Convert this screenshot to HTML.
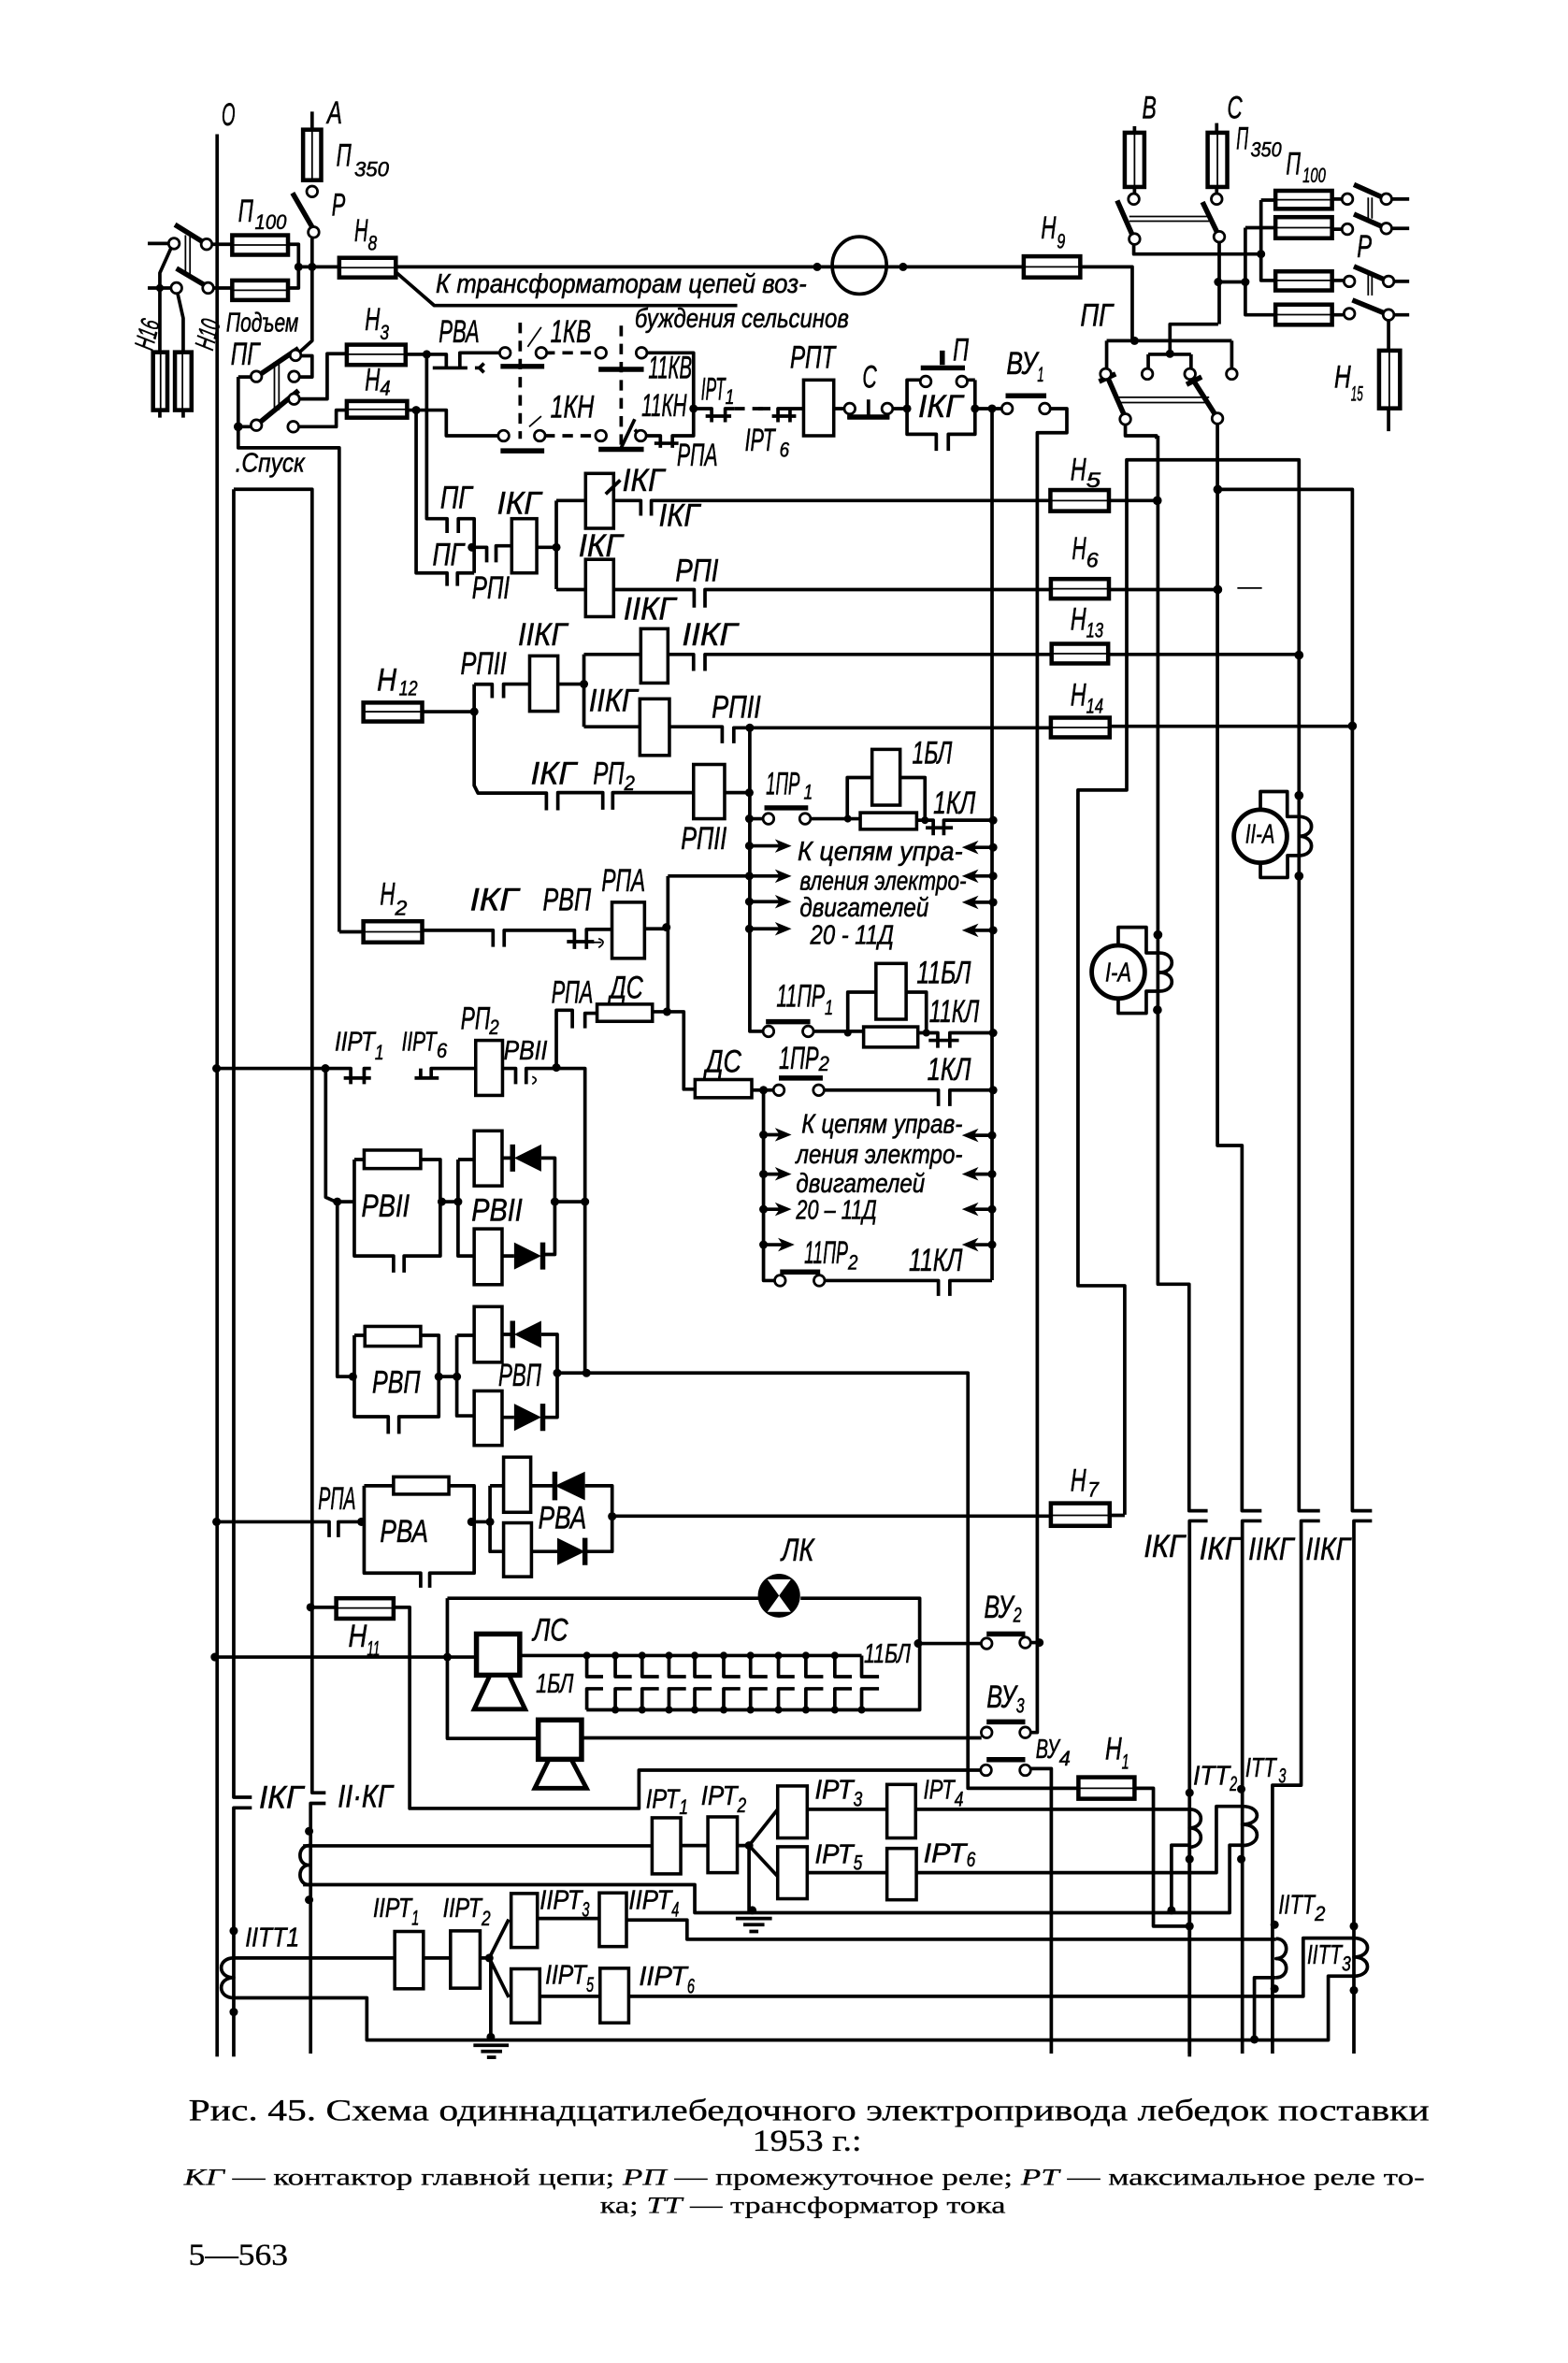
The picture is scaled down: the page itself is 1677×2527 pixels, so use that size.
<!DOCTYPE html>
<html lang="ru"><head><meta charset="utf-8"><title>Рис. 45</title>
<style>
html,body{margin:0;padding:0;background:#fff}
svg{display:block}
.w{fill:none;stroke:#000;stroke-width:2.3;stroke-linejoin:round}
.t{fill:none;stroke:#000;stroke-width:3.4}
.h{fill:none;stroke:#000;stroke-width:1.1}
.d{fill:none;stroke:#000;stroke-width:2.3;stroke-dasharray:7 5}
.f{fill:#fff;stroke:#000;stroke-width:2.8}
.r{fill:#fff;stroke:#000;stroke-width:2.2}
.c{fill:#fff;stroke:#000;stroke-width:1.7}
.n{fill:#000}
text{fill:#000;stroke:#000;stroke-width:.35;font-family:"Liberation Sans",sans-serif;font-style:italic;font-size:21px}
.s{font-size:14px}
.m{font-size:18px}
.cap{font-family:"Liberation Serif",serif;font-style:normal;font-size:20px;stroke-width:.2}
.sm{font-family:"Liberation Serif",serif;font-style:normal;font-size:16px;stroke-width:.15}
.sm tspan{font-style:italic}
</style></head><body>
<svg xmlns="http://www.w3.org/2000/svg" width="1677" height="2527" viewBox="0 0 1040 1567.2">
<rect width="1040" height="1567.2" fill="#fff"/>

<!-- wires -->
<path class="w" d="M144 89V1364M155 324.5V1192H167M167 1199H155V1364M155 324.5H207V1189H216M216 1196H206V1362
M98 161.5H115M98 191H117M115 161L106 181V277M117 191L121.5 211V277
M137 162H154M191 162H198V191H191M139 191H154
M207 74V120M207 158V226L196 236M198 177H552M552 177H679M716 177H751V226
M262 180L288 202.6H489
M196 236H207V250H199M199 264.6H217V234.6H230M198 283H223V272H230
M158 250H170M158 250V297H225V618M158 283H170
M269 235H296V244M283 235V344H296.5V353.5M304 353.5V344H314.5V380M276 272V380H296.5V388.6M303.4 388.6V380H314.5
M305 244V234H335M287 244H310M315 244H318L321 241M315 244H318L321 247
M270 272H296V289H334M359 234H366M425 234H460V289H446V297M425 289H438V297M434 294H450
M460 271H472V280M481 280V271H487M468 276H485M503 271H511M516 280V271H533M512 276H528M516 271V280M524 271V280M524 271H533
M553 271H560M562 276.6H590M576 265V276M592 271H601.6V252H611M601.6 271V288H621V299M629 299V288H646.7V271M646.7 252H641M646.7 252V271
M646.7 271H665M658 271V849M696 271H707.6V287H688V1149H683M313 363H322.8V373M329 373V362H339M356 363H369M369 332V390.7M369 332H388M369 391H388
M407 332H425V342M432 342V332H697M407 391H460.4V403M467.6 403V391H697
M280 472H314.5M314.5 453.8H326.4V463M334 463V453.7H351M370 453.7H387.3M387.3 434V482M387.3 434H425M387.3 482H424M443 434H460V445M467.6 445V434H697M444 482H479V493M486.7 493V482.7H697
M497.3 482.7V684H507M314.5 453.8V521L317 526H362.4V537.4M370 537.4V525.7H399.8V537M406.4 537V525.7H460M480.6 525.7H497.3
M497 543H507M536 543H578M562 543V515.7H578.4M597 515.7H613.5V544M608 544H619V554M626 554V544H658.7M614 549H632
M225 618H241M280 617H327V628M334.4 628V617H381V629.4M389 629.4V616.4H406M376 624.5H394M427.5 616H443M443 581V671M443 581H497
M536 684H581M562.3 685V658H581M601 658H614.4V685M608.8 685H622V695M630 695V685H658.7M616 690H636
M369 707V670H379.6V682M388 682V672H396M432.7 671H453.5V722.4H461M498.6 723H516M543 723H622.4V733.6M630 733.6V723H658.7
M506.4 723V849.3H516M544 849.3H622.4V859.5M630 859.5V849.3H658
M144 708.6H232.6V719M241.5 719V708.6H246M279 708.6V716M286 716V708.6H315.5M333.3 708.6H342V719M349 719V708.6H388V910.6H642V1186H715M228 715H246M275 715H291
M216 708.6V794L223.7 797.5V913H234M223.7 797H235M235 769H242M279 769H292V833H268V844M261 844V833H235V769M293 797H303.8M303.8 769H314.5M303.8 769V833H314.5M333 768H341M359 768H368V832H359M333 833H341M368 797H388
M235 885.6V939.6H257.5V951M264.6 951V939.6H291V885.6H279M242 885.6H235M291 913H303M303 885.6V939H314.5M303 885.6H314.5M333 885H341M359 885H369.6V940H359M333 940H341M369.6 910.6H389
M144 1009.3H218.3V1019.5M224.4 1019.5V1009.3H241.5M241.5 985.4V1043.3H279V1053M285 1053V1043.3H314.5V985.4H297.7M261 985.4H241.5M312.7 1009.3H325M325 985.4V1029H334M325 985.4H334M352 985.4H368M388 985.4H406V1029H388M352 1029H369.6M406 1005.5H697M736 1005H746M746 1004.6V852.7H715V524H747.3V305H861.6V1002H875.5M875.5 1008.7H863V1184H844V1362
M768 289V851.7H788.7V1002H801M801 1008.7H789V1364"/>
<path class="w" d="M746.4 281V289H767V291M807.5 281V759.7H823.8V1002H836.8M836.8 1008.7H824V1362M807.7 324.6H897V1002H910M910 1008.7H898V1362
M736 332H767.6M736 391H807.7M733 434H861.6M737 481.7H897
M206 1066H223M261 1066H271.7V1199.4H423.8V1174H651M142.5 1099H316M296.7 1060V1153H357M296.7 1060H503M531 1060H610V1134H389M344.7 1098H571.5M385.7 1152.6H651M609 1090H651M683 1089.4H689.4M683 1173H697.3V1362
M752.5 1186H765V1277.5H789M389.2 1098V1112H400M408.1 1098V1112H419M425.9 1098V1112H437M443.7 1098V1112H455M460.8 1098V1112H472M480 1098V1112H491M497.8 1098V1112H509M516.3 1098V1112H527M534.5 1098V1112H546M553.7 1098V1112H565M571.5 1098V1112H583
M389.2 1134V1120H400M408.1 1134V1120H419M425.9 1134V1120H437M443.7 1134V1120H455M460.8 1134V1120H472M480 1134V1120H491M497.8 1134V1120H509M516.3 1134V1120H527M534.5 1134V1120H546M553.7 1134V1120H565M571.5 1134V1120H583
M201 1224.2H432.5M451.5 1224H469.5M489 1224H496.8L515.8 1200M496.8 1224L515.8 1244.5M535.4 1200H588.3M607.3 1200H789M535.4 1242H588.3M607.3 1242H806.8V1198H824
M496.8 1224V1268M201 1250H460.8V1268.6H815.6V1223.8H824M777 1268V1223.8H789
M155 1298.6H261.8M280.8 1298.6H298.8M318.4 1298.6H324.5L337.4 1273M324.5 1298.6L337.4 1324.7M356.4 1272.4H397.5M415.5 1273.4H455.7V1286.2H846.4M356.4 1324H398M417 1324H864.4V1285.4H898
M325.5 1298.6V1353M155 1325H243.3V1353H881V1310.6H898M832 1352.6V1311.6H846.4
M789 1200V1362M824 1198V1362"/>
<path class="h" stroke-width="1.4" d="M820.7 390H837"/>

<!-- coils of transformers and motors -->
<path class="w" d="M205 1224c-8 0-8 13 0 13c-8 0-8 13 0 13M789 1200c10 0 10 12.4 0 12.4c10 0 10 12.6 0 12.6M824 1198c13 0 13 12 0 12c13 0 13 14 0 14
M155 1298.6c-11 0-11 13 0 13c-11 0-11 13.4 0 13.4M846.4 1285.8c9 0 9 13.2 0 13.2c9 0 9 12.6 0 12.6M898 1285.4c12 0 12 12.6 0 12.6c12 0 12 12.6 0 12.6
M861.6 541.6c11 0 11 13 0 13c11 0 11 12.8 0 12.8M769 632c11 0 11 13 0 13c11 0 11 12.4 0 12.4
M836 537V525H853.8V541.6H861.6M861.6 567.4H854V582H836V572M741.7 627V615H760.3V632H769M769 657.4H760.3V672H741.7V662"/>
<ellipse class="w" cx="570" cy="176" rx="18" ry="19"/>
<circle cx="836" cy="554.6" r="17.6" fill="#fff" stroke="#000" stroke-width="3"/>
<circle cx="741.7" cy="644.6" r="17.6" fill="#fff" stroke="#000" stroke-width="3"/>

<!-- dashed -->
<path class="d" d="M345 214V291M412 216V295M361 234H398M361 289H398M487 271H511"/>
<path class="h" d="M350 230L359 217M351 283L359 276"/>

<!-- blades, bars -->
<path class="t" d="M116 149L137 162M117 178L139 191M194 128L209 154M170 250L198 231M170 282L198 259
M332 243H361M397 245H427M332 299H361M397 298H427M610.7 244H640M625 232.5V242M667 262.5H694
M741 133L752 158M797.6 134L808.7 157M735 251L746.4 277M792 253L807.3 277M898 122.4L919.5 132M898 142L919.5 151.5M898 176.7L921 186.6M897 199L921 208.8
M507 535.8H536M508 677.6H537.4M516.6 715H545.7M517.4 843.6H544M654.4 1083.7H680M654.4 1142H680M654.4 1167H680M562 276.6H590M729 253L740 248M787 255L797 250"/>
<path class="w" d="M412 297L421 278M425 289L421 285"/>
<path class="h" d="M123 156V182M126 156V182M182 240V272M185 240V272M749 143.6H802M749 146.7H802M742 263.5H802M742 267H802M907.5 131V145M910 131V145M907.5 181V196M910 181V196"/>
<path class="w" d="M752 162V168.5H836.4M808.7 161V215M808 187H826M826 151V208.8H846M826 151H846M836.4 132.7V186H846M836.4 132.7H846M883.5 132H890M883.5 152H890M883.5 186H891M883.5 208.8H891
M923 132H934.7M923 151.5H934.7M925 186.6H934.7M925 208.8H934.7M921 212V286M752.5 83.7V124M807 81.6V124M752.5 124V128M807 124V128
M808 215H776V234.6M734 226H817M734 226V244M817 226V244M761.6 235H790M761.6 235V244M790 235V244"/>

<!-- fuses -->
<g>
<rect class="f" x="154" y="156" width="37" height="13"/><rect class="f" x="154" y="186" width="37" height="13"/>
<rect class="f" x="225" y="171" width="37.5" height="13"/><rect class="f" x="679" y="170" width="37.5" height="14"/>
<rect class="f" x="230" y="228.6" width="39" height="13.4"/><rect class="f" x="230" y="266" width="40" height="11"/>
<rect class="f" x="241" y="466" width="39" height="12.5"/><rect class="f" x="241" y="611" width="39" height="14"/>
<rect class="f" x="696.7" y="325" width="38.8" height="14"/><rect class="f" x="697" y="384" width="38.5" height="13"/>
<rect class="f" x="697.5" y="427" width="37.5" height="13"/><rect class="f" x="697" y="476" width="39" height="13"/>
<rect class="f" x="697" y="997" width="39" height="15"/><rect class="f" x="223" y="1060" width="38" height="13.5"/>
<rect class="f" x="715.3" y="1178.7" width="37.2" height="14.3"/>
<rect class="f" x="846" y="126.5" width="37.5" height="12"/><rect class="f" x="846" y="144" width="37.5" height="14"/>
<rect class="f" x="846" y="180" width="37.5" height="12.6"/><rect class="f" x="846" y="202" width="37.5" height="13.4"/>
<rect class="f" x="201" y="86" width="12" height="33.5"/><rect class="f" x="101.5" y="233.6" width="9.5" height="38.4"/>
<rect class="f" x="116" y="233.6" width="11" height="38.4"/><rect class="f" x="746" y="88" width="13" height="36"/>
<rect class="f" x="801" y="88" width="13" height="36"/><rect class="f" x="914.7" y="232.5" width="13.9" height="38.3"/>
</g>
<path class="h" stroke-width="1.5" d="M154 162.5H191M154 192.5H191M225 177.5H262M679 177H716M230 235H269M230 271.5H270M241 472H280M241 618H280M697 332H735M697 390.5H735M697.5 433.5H735M697 482.5H736M697 1005H736M223 1066.500H261M715 1186H752M846 132.5H883M846 151H883M846 186H883M846 208.7H883
M207 86V119M106.5 234V272M121 234V272M752.5 88V124M807.5 88V124M921.5 232V271"/>

<!-- coils / resistors -->
<g>
<rect class="r" x="533" y="252" width="20" height="37"/><rect class="r" x="339.4" y="344" width="16.6" height="36"/>
<rect class="r" x="388.4" y="314" width="18.6" height="36.4"/><rect class="r" x="388.4" y="371" width="18.6" height="38"/>
<rect class="r" x="351.3" y="435" width="18.7" height="36.7"/><rect class="r" x="425" y="417" width="18" height="36"/>
<rect class="r" x="424.4" y="463.5" width="19.6" height="37.5"/><rect class="r" x="460" y="507" width="20.6" height="36"/>
<rect class="r" x="578.4" y="497" width="18.6" height="37"/><rect class="r" x="570.6" y="539" width="37.4" height="11"/>
<rect class="r" x="405.9" y="598.4" width="21.6" height="37.2"/><rect class="r" x="581" y="639" width="20" height="37"/>
<rect class="r" x="572.8" y="681" width="36" height="13.5"/><rect class="r" x="396" y="666" width="36.7" height="11.4"/>
<rect class="r" x="461" y="716" width="37.6" height="12"/><rect class="r" x="315.5" y="690" width="17.8" height="36.5"/>
<rect class="r" x="241.5" y="762.8" width="37.5" height="12.2"/><rect class="r" x="314.5" y="750" width="18.5" height="36.5"/>
<rect class="r" x="314.5" y="815" width="18.5" height="37"/><rect class="r" x="242" y="879.7" width="37" height="13.1"/>
<rect class="r" x="314.5" y="866.6" width="18.5" height="36.9"/><rect class="r" x="314.5" y="922.5" width="18.5" height="36.1"/>
<rect class="r" x="261" y="979.5" width="36.7" height="11.5"/><rect class="r" x="334" y="966.4" width="18" height="36.6"/>
<rect class="r" x="334" y="1010" width="18.5" height="35.7"/>
<rect class="r" x="432.5" y="1205.6" width="19" height="37.2"/><rect class="r" x="469.5" y="1205" width="19.5" height="37"/>
<rect class="r" x="515.8" y="1184.5" width="19.6" height="34.5"/><rect class="r" x="588.3" y="1183.5" width="19" height="35.5"/>
<rect class="r" x="515.8" y="1224.8" width="19.6" height="34.5"/><rect class="r" x="588.3" y="1225.9" width="19.5" height="34.1"/>
<rect class="r" x="261.8" y="1281" width="19" height="38"/><rect class="r" x="298.8" y="1280.6" width="19.6" height="38"/>
<rect class="r" x="339" y="1255.8" width="17.4" height="35.8"/><rect class="r" x="397.5" y="1255.4" width="18" height="35.6"/>
<rect class="r" x="339" y="1305.8" width="19" height="35.8"/><rect class="r" x="398" y="1305.4" width="19" height="36.2"/>
</g>

<!-- sirens -->
<rect x="316" y="1083.7" width="28.7" height="27.3" fill="#fff" stroke="#000" stroke-width="3.4"/>
<path d="M325 1111L314.5 1133.6H348.3L337.6 1111Z" fill="#fff" stroke="#000" stroke-width="3"/>
<rect x="357" y="1140.7" width="28.7" height="26.1" fill="#fff" stroke="#000" stroke-width="3.4"/>
<path d="M364 1167L354.7 1186H389L379 1167Z" fill="#fff" stroke="#000" stroke-width="3"/>
<!-- lamp -->
<ellipse cx="516.7" cy="1058.3" rx="14" ry="14.5" fill="#000"/>
<path d="M509 1047.5H524.5L516.7 1058.300ZM509 1069H524.5L516.7 1058.300Z" fill="#fff"/>

<!-- diodes -->
<path class="n" d="M341 768L359 759V777ZM341 885L359 876V894ZM368 985.4L388 976V995Z"/>
<path class="n" d="M341 824L359 833L341 842ZM341 931L359 940L341 949ZM369.6 1020L388 1029L369.6 1038Z"/>
<path class="t" stroke-width="2.4" d="M340 759V777M360 824V842M340 876V894M360 931V949M368 976V995M388 1020V1038"/>

<!-- coil arrow marks -->
<path class="w" stroke-width="1.6" d="M401.7 327.7L411.4 318.4"/>

<!-- arrows -->
<path class="w" d="M497 561H520M497 581H520M497 598H520M497 616H520M658.7 562H642M658.7 581H642M658.7 598.4H642M658.7 617H642M506.4 752.6H520M506.4 778.7H520M506.4 802H520M506.4 825.5H522M658 753H642M658 778.7H642M658 802H642M658 825.5H642"/>
<path class="n" d="M525 561L514 556.5L517 561L514 565.5ZM525 581L514 576.5L517 581L514 585.5ZM525 598L514 593.5L517 598L514 602.5ZM525 616L514 611.5L517 616L514 620.5ZM638 562L649 557.5L646 562L649 566.5ZM638 581L649 576.5L646 581L649 585.5ZM638 598.4L649 594L646 598.4L649 603ZM638 617L649 612.5L646 617L649 621.5ZM525 752.6L514 748L517 752.6L514 757ZM525 778.7L514 774L517 778.7L514 783ZM525 802L514 797.5L517 802L514 806.5ZM527 825.5L516 821L519 825.5L516 830ZM638 753L649 748.5L646 753L649 757.5ZM638 778.7L649 774L646 778.7L649 783ZM638 802L649 797.5L646 802L649 806.5ZM638 825.5L649 821L646 825.5L649 830Z"/>

<!-- grounds and small marks -->
<path class="w" d="M488 1272.4H512M493 1276.5H507M497 1281H503M314 1356.5H337.4M319 1360.5H333M323 1364.5H329"/>
<path class="h" stroke-width="1.5" d="M397 622.5q6 2 0 6M353 714q5 2 0 5M393 625h6"/>

<!-- terminal circles -->
<g>
<circle class="c" cx="115.4" cy="161.5" r="3.6"/><circle class="c" cx="137" cy="162" r="3.6"/><circle class="c" cx="117" cy="191" r="3.6"/><circle class="c" cx="138" cy="191" r="3.6"/>
<circle class="c" cx="207" cy="127" r="3.6"/><circle class="c" cx="208" cy="154" r="3.6"/>
<circle class="c" cx="196" cy="235.6" r="3.6"/><circle class="c" cx="195" cy="249.7" r="3.6"/><circle class="c" cx="170" cy="249.7" r="3.6"/><circle class="c" cx="195" cy="264.6" r="3.6"/><circle class="c" cx="170" cy="282" r="3.6"/><circle class="c" cx="194.5" cy="283" r="3.6"/>
<circle class="c" cx="335" cy="234" r="3.6"/><circle class="c" cx="359" cy="234" r="3.6"/><circle class="c" cx="398.6" cy="234" r="3.6"/><circle class="c" cx="425.5" cy="234" r="3.6"/>
<circle class="c" cx="334" cy="289" r="3.6"/><circle class="c" cx="358" cy="289" r="3.6"/><circle class="c" cx="398.6" cy="289" r="3.6"/><circle class="c" cx="425" cy="289" r="3.6"/>
<circle class="c" cx="563.6" cy="271" r="3.6"/><circle class="c" cx="588.5" cy="271" r="3.6"/><circle class="c" cx="614" cy="253" r="3.6"/><circle class="c" cx="638" cy="253" r="3.6"/>
<circle class="c" cx="668" cy="271" r="3.6"/><circle class="c" cx="693" cy="271" r="3.6"/>
<circle class="c" cx="752" cy="132" r="3.6"/><circle class="c" cx="807" cy="132" r="3.6"/><circle class="c" cx="752.5" cy="158.5" r="3.6"/><circle class="c" cx="808.7" cy="157" r="3.6"/>
<circle class="c" cx="893.7" cy="132" r="3.6"/><circle class="c" cx="893.7" cy="152" r="3.6"/><circle class="c" cx="895" cy="186.6" r="3.6"/><circle class="c" cx="895" cy="208" r="3.6"/>
<circle class="c" cx="919.5" cy="132" r="3.6"/><circle class="c" cx="919.5" cy="151.5" r="3.6"/><circle class="c" cx="921" cy="186.6" r="3.6"/><circle class="c" cx="921" cy="208.8" r="3.6"/>
<circle class="c" cx="733.4" cy="248" r="3.6"/><circle class="c" cx="761" cy="248" r="3.6"/><circle class="c" cx="789.3" cy="248" r="3.6"/><circle class="c" cx="817" cy="248" r="3.6"/>
<circle class="c" cx="746.4" cy="278" r="3.6"/><circle class="c" cx="807.5" cy="277.5" r="3.6"/>
<circle class="c" cx="509.7" cy="543" r="3.6"/><circle class="c" cx="534" cy="543" r="3.6"/><circle class="c" cx="509.7" cy="684" r="3.6"/><circle class="c" cx="536" cy="684" r="3.6"/>
<circle class="c" cx="516.6" cy="723" r="3.6"/><circle class="c" cx="543" cy="723" r="3.6"/><circle class="c" cx="517.4" cy="849.3" r="3.6"/><circle class="c" cx="543.4" cy="849.3" r="3.6"/>
<circle class="c" cx="654.4" cy="1090" r="3.6"/><circle class="c" cx="680" cy="1089.4" r="3.6"/><circle class="c" cx="654.4" cy="1149" r="3.6"/><circle class="c" cx="680" cy="1149" r="3.6"/><circle class="c" cx="654" cy="1174" r="3.6"/><circle class="c" cx="680" cy="1174" r="3.6"/>
</g>

<!-- junction dots -->
<g class="n">
<circle cx="106" cy="191" r="2.6"/><circle cx="198" cy="177" r="2.8"/><circle cx="207" cy="177" r="2.8"/><circle cx="158" cy="283" r="3"/><circle cx="283" cy="235" r="2.8"/><circle cx="276" cy="272" r="2.8"/><circle cx="542" cy="177" r="2.8"/><circle cx="599" cy="177" r="2.8"/>
<circle cx="460" cy="271" r="2.8"/><circle cx="601.6" cy="271" r="2.8"/><circle cx="646.7" cy="271" r="2.8"/><circle cx="658" cy="271" r="2.8"/><circle cx="752.5" cy="226" r="2.8"/><circle cx="776" cy="234.6" r="2.8"/><circle cx="836.4" cy="168.5" r="2.8"/><circle cx="808" cy="187" r="2.8"/><circle cx="826" cy="187" r="2.8"/>
<circle cx="767.6" cy="332" r="3"/><circle cx="807.7" cy="324.6" r="3"/><circle cx="807.7" cy="391" r="3"/><circle cx="861.6" cy="434.5" r="3"/><circle cx="897" cy="481.5" r="3"/>
<circle cx="861.6" cy="527.6" r="3"/><circle cx="861.6" cy="581" r="3"/><circle cx="768" cy="620" r="3"/><circle cx="767.7" cy="669.8" r="3"/>
<circle cx="313" cy="363" r="2.8"/><circle cx="369" cy="363" r="2.8"/><circle cx="314.5" cy="472" r="2.8"/><circle cx="387.3" cy="453.7" r="2.8"/><circle cx="497.3" cy="482.7" r="2.8"/><circle cx="497" cy="525.7" r="2.8"/><circle cx="497" cy="543" r="2.8"/><circle cx="562.3" cy="543" r="2.5"/><circle cx="613.5" cy="544" r="2.5"/><circle cx="658.7" cy="544" r="2.8"/>
<circle cx="497" cy="561" r="2.8"/><circle cx="497" cy="581" r="2.8"/><circle cx="497" cy="598" r="2.8"/><circle cx="497" cy="616" r="2.8"/><circle cx="658.7" cy="562" r="2.8"/><circle cx="658.7" cy="581" r="2.8"/><circle cx="658.7" cy="598.4" r="2.8"/><circle cx="658.7" cy="617" r="2.8"/>
<circle cx="442" cy="615" r="2.8"/><circle cx="442.4" cy="671" r="2.8"/><circle cx="562.3" cy="685" r="2.5"/><circle cx="614.4" cy="685" r="2.5"/><circle cx="658.7" cy="685" r="2.8"/><circle cx="658.7" cy="723" r="2.8"/><circle cx="506.4" cy="723" r="2.8"/>
<circle cx="506.4" cy="752.6" r="2.8"/><circle cx="506.4" cy="778.7" r="2.8"/><circle cx="506.4" cy="802" r="2.8"/><circle cx="506.4" cy="825.5" r="2.8"/><circle cx="658" cy="753" r="2.8"/><circle cx="658" cy="778.7" r="2.8"/><circle cx="658" cy="802" r="2.8"/><circle cx="658" cy="825.5" r="2.8"/>
<circle cx="143.6" cy="708.6" r="2.8"/><circle cx="215.8" cy="708.6" r="2.8"/><circle cx="369" cy="708" r="2.8"/><circle cx="223.7" cy="797" r="2.8"/><circle cx="293" cy="797" r="2.8"/><circle cx="303.8" cy="797" r="2.8"/><circle cx="368" cy="797" r="2.8"/><circle cx="388" cy="797" r="2.8"/>
<circle cx="234" cy="913" r="2.8"/><circle cx="291" cy="913" r="2.8"/><circle cx="303" cy="913" r="2.8"/><circle cx="369.6" cy="910.6" r="2.8"/><circle cx="389" cy="910.6" r="2.8"/>
<circle cx="143.6" cy="1009.3" r="2.8"/><circle cx="239.7" cy="1009.3" r="2.8"/><circle cx="312.7" cy="1009.3" r="2.8"/><circle cx="325" cy="1009.3" r="2.8"/><circle cx="406" cy="1005.7" r="2.8"/>
<circle cx="206" cy="1066" r="2.8"/><circle cx="142.5" cy="1099" r="2.8"/><circle cx="296.7" cy="1099" r="2.8"/><circle cx="609" cy="1090" r="2.8"/><circle cx="689.4" cy="1089.4" r="2.8"/>
<circle cx="389.2" cy="1098" r="2.5"/><circle cx="408.1" cy="1098" r="2.5"/><circle cx="425.9" cy="1098" r="2.5"/><circle cx="443.7" cy="1098" r="2.5"/><circle cx="460.8" cy="1098" r="2.5"/><circle cx="480" cy="1098" r="2.5"/><circle cx="497.8" cy="1098" r="2.5"/><circle cx="516.3" cy="1098" r="2.5"/><circle cx="534.5" cy="1098" r="2.5"/><circle cx="553.7" cy="1098" r="2.5"/>
<circle cx="408.1" cy="1134" r="2.5"/><circle cx="425.9" cy="1134" r="2.5"/><circle cx="443.7" cy="1134" r="2.5"/><circle cx="460.8" cy="1134" r="2.5"/><circle cx="480" cy="1134" r="2.5"/><circle cx="497.8" cy="1134" r="2.5"/><circle cx="516.3" cy="1134" r="2.5"/><circle cx="534.5" cy="1134" r="2.5"/><circle cx="553.7" cy="1134" r="2.5"/><circle cx="571.5" cy="1134" r="2.5"/>
<circle cx="205" cy="1214.5" r="2.8"/><circle cx="205" cy="1260" r="2.8"/><circle cx="155" cy="1280.6" r="2.8"/><circle cx="155" cy="1334.4" r="2.8"/><circle cx="496.8" cy="1224" r="2.8"/><circle cx="499" cy="1267" r="2.8"/><circle cx="324.5" cy="1298.6" r="2.8"/><circle cx="325.5" cy="1351" r="2.8"/><circle cx="777" cy="1267" r="2.8"/><circle cx="832" cy="1352.6" r="2.8"/>
<circle cx="789" cy="1189" r="2.8"/><circle cx="789" cy="1233" r="2.8"/><circle cx="789" cy="1277.5" r="2.8"/><circle cx="823.3" cy="1186.6" r="2.8"/><circle cx="823.3" cy="1233" r="2.8"/><circle cx="845.4" cy="1276.5" r="2.8"/><circle cx="845.4" cy="1319" r="2.8"/><circle cx="898" cy="1277.5" r="2.8"/><circle cx="898" cy="1320" r="2.8"/>
</g>

<!-- labels -->
<g>
<text x="147" y="83" textLength="9" lengthAdjust="spacingAndGlyphs">О</text>
<text x="217" y="82" textLength="10" lengthAdjust="spacingAndGlyphs">А</text>
<text x="223" y="110" textLength="10" lengthAdjust="spacingAndGlyphs">П</text><text class="s" x="235" y="117" textLength="23" lengthAdjust="spacingAndGlyphs">350</text>
<text x="220" y="143" textLength="9" lengthAdjust="spacingAndGlyphs">Р</text>
<text x="158" y="147" textLength="10" lengthAdjust="spacingAndGlyphs">П</text><text class="s" x="169" y="152" textLength="21" lengthAdjust="spacingAndGlyphs">100</text>
<text x="235" y="160" textLength="9" lengthAdjust="spacingAndGlyphs">Н</text><text class="s" x="244" y="166" textLength="6" lengthAdjust="spacingAndGlyphs">8</text>
<text class="m" x="289" y="194" textLength="246" lengthAdjust="spacingAndGlyphs">К трансформаторам цепей воз-</text>
<text class="m" x="421" y="217" textLength="142" lengthAdjust="spacingAndGlyphs">буждения сельсинов</text>
<text class="m" transform="translate(101 233) rotate(-75)" textLength="20" lengthAdjust="spacingAndGlyphs">Н16</text>
<text class="m" transform="translate(141 233) rotate(-75)" textLength="20" lengthAdjust="spacingAndGlyphs">Н10</text>
<text class="m" x="150" y="220" textLength="48" lengthAdjust="spacingAndGlyphs">Подъем</text>
<text x="153" y="242" textLength="19" lengthAdjust="spacingAndGlyphs">ПГ</text>
<text class="m" x="156" y="313" textLength="46" lengthAdjust="spacingAndGlyphs">.Спуск</text>
<text x="242" y="219" textLength="10" lengthAdjust="spacingAndGlyphs">Н</text><text class="s" x="252" y="225" textLength="6" lengthAdjust="spacingAndGlyphs">3</text>
<text x="242" y="259" textLength="10" lengthAdjust="spacingAndGlyphs">Н</text><text class="s" x="252" y="262" textLength="7" lengthAdjust="spacingAndGlyphs">4</text>
<text x="291" y="227" textLength="27" lengthAdjust="spacingAndGlyphs">РВА</text>
<text x="365" y="227" textLength="27" lengthAdjust="spacingAndGlyphs">1КВ</text>
<text x="430" y="251" textLength="29" lengthAdjust="spacingAndGlyphs">11КВ</text>
<text x="365" y="277" textLength="29" lengthAdjust="spacingAndGlyphs">1КН</text>
<text x="425.5" y="276" textLength="30" lengthAdjust="spacingAndGlyphs">11КН</text>
<text x="449" y="309" textLength="27" lengthAdjust="spacingAndGlyphs">РПА</text>
<text x="465" y="265" textLength="16" lengthAdjust="spacingAndGlyphs">IРТ</text><text class="s" x="481" y="268" textLength="6" lengthAdjust="spacingAndGlyphs">1</text>
<text x="494" y="299" textLength="20" lengthAdjust="spacingAndGlyphs">IРТ</text><text class="s" x="517" y="303" textLength="6.5" lengthAdjust="spacingAndGlyphs">6</text>
<text x="524" y="244" textLength="30" lengthAdjust="spacingAndGlyphs">РПТ</text>
<text x="572" y="257" textLength="9.5" lengthAdjust="spacingAndGlyphs">С</text>
<text x="632" y="239" textLength="10.5" lengthAdjust="spacingAndGlyphs">П</text>
<text x="667.5" y="248" textLength="20.5" lengthAdjust="spacingAndGlyphs">ВУ</text><text class="s" x="688" y="253" textLength="4.5" lengthAdjust="spacingAndGlyphs">1</text>
<text x="609" y="276.6" textLength="29.4" lengthAdjust="spacingAndGlyphs">IКГ</text>
<text x="690.5" y="158" textLength="10" lengthAdjust="spacingAndGlyphs">Н</text><text class="s" x="701" y="164.7" textLength="5.5" lengthAdjust="spacingAndGlyphs">9</text>
<text x="716.5" y="216" textLength="21.5" lengthAdjust="spacingAndGlyphs">ПГ</text>
<text x="757.5" y="78.5" textLength="9.5" lengthAdjust="spacingAndGlyphs">В</text>
<text x="814" y="78.5" textLength="10" lengthAdjust="spacingAndGlyphs">С</text>
<text x="820" y="99" textLength="8" lengthAdjust="spacingAndGlyphs">П</text><text class="s" x="829.5" y="104" textLength="20.5" lengthAdjust="spacingAndGlyphs">350</text>
<text x="853" y="115.7" textLength="9.7" lengthAdjust="spacingAndGlyphs">П</text><text class="s" x="864" y="121" textLength="15.3" lengthAdjust="spacingAndGlyphs">100</text>
<text x="900" y="170.5" textLength="9.8" lengthAdjust="spacingAndGlyphs">Р</text>
<text x="885" y="257" textLength="11" lengthAdjust="spacingAndGlyphs">Н</text><text class="s" x="896" y="265.6" textLength="8" lengthAdjust="spacingAndGlyphs">15</text>
<text x="710" y="318.4" textLength="10.4" lengthAdjust="spacingAndGlyphs">Н</text><text class="s" x="720.5" y="323" textLength="9.5" lengthAdjust="spacingAndGlyphs">5</text>
<text x="711" y="371" textLength="9.4" lengthAdjust="spacingAndGlyphs">Н</text><text class="s" x="720.5" y="376" textLength="8" lengthAdjust="spacingAndGlyphs">6</text>
<text x="710" y="417.6" textLength="10.4" lengthAdjust="spacingAndGlyphs">Н</text><text class="s" x="720.4" y="422.8" textLength="11.4" lengthAdjust="spacingAndGlyphs">13</text>
<text x="710" y="468" textLength="10.4" lengthAdjust="spacingAndGlyphs">Н</text><text class="s" x="720.4" y="473" textLength="11.4" lengthAdjust="spacingAndGlyphs">14</text>
<text class="m" x="826" y="559" textLength="19.5" lengthAdjust="spacingAndGlyphs">II-А</text>
<text class="m" x="733" y="651" textLength="17.4" lengthAdjust="spacingAndGlyphs">I-А</text>
<text x="710" y="989" textLength="10.4" lengthAdjust="spacingAndGlyphs">Н</text><text class="s" x="721.5" y="992.6" textLength="7.2" lengthAdjust="spacingAndGlyphs">7</text>
<text x="758.7" y="1032.5" textLength="27" lengthAdjust="spacingAndGlyphs">IКГ</text>
<text x="795.5" y="1034" textLength="27.3" lengthAdjust="spacingAndGlyphs">IКГ</text>
<text x="828" y="1034.5" textLength="30" lengthAdjust="spacingAndGlyphs">IIКГ</text>
<text x="866" y="1034.5" textLength="29.5" lengthAdjust="spacingAndGlyphs">IIКГ</text>
<text x="292" y="337" textLength="21" lengthAdjust="spacingAndGlyphs">ПГ</text>
<text x="329.7" y="340.7" textLength="29" lengthAdjust="spacingAndGlyphs">IКГ</text>
<text x="286.8" y="375" textLength="20.8" lengthAdjust="spacingAndGlyphs">ПГ</text>
<text x="313" y="397" textLength="25" lengthAdjust="spacingAndGlyphs">РПI</text>
<text x="412.8" y="325.6" textLength="27.7" lengthAdjust="spacingAndGlyphs">IКГ</text>
<text x="437" y="349" textLength="27" lengthAdjust="spacingAndGlyphs">IКГ</text>
<text x="383.7" y="369" textLength="29" lengthAdjust="spacingAndGlyphs">IКГ</text>
<text x="448" y="385.5" textLength="28.5" lengthAdjust="spacingAndGlyphs">РПI</text>
<text x="413.6" y="411" textLength="34.4" lengthAdjust="spacingAndGlyphs">IIКГ</text>
<text x="343.6" y="428" textLength="32.4" lengthAdjust="spacingAndGlyphs">IIКГ</text>
<text x="452.4" y="428" textLength="36.6" lengthAdjust="spacingAndGlyphs">IIКГ</text>
<text x="305.4" y="447" textLength="30.6" lengthAdjust="spacingAndGlyphs">РПII</text>
<text x="250" y="458" textLength="13" lengthAdjust="spacingAndGlyphs">Н</text><text class="s" x="264.6" y="461" textLength="12.4" lengthAdjust="spacingAndGlyphs">12</text>
<text x="390.6" y="471.7" textLength="32" lengthAdjust="spacingAndGlyphs">IIКГ</text>
<text x="472" y="476" textLength="32.7" lengthAdjust="spacingAndGlyphs">РПII</text>
<text x="352" y="520" textLength="30" lengthAdjust="spacingAndGlyphs">IКГ</text>
<text x="393.4" y="520" textLength="20.6" lengthAdjust="spacingAndGlyphs">РП</text><text class="s" x="414" y="524" textLength="7" lengthAdjust="spacingAndGlyphs">2</text>
<text x="605" y="506.5" textLength="26.5" lengthAdjust="spacingAndGlyphs">1БЛ</text>
<text x="508" y="526.7" textLength="22.5" lengthAdjust="spacingAndGlyphs">1ПР</text><text class="s" x="533" y="530" textLength="6" lengthAdjust="spacingAndGlyphs">1</text>
<text x="619" y="539.5" textLength="28" lengthAdjust="spacingAndGlyphs">1КЛ</text>
<text x="451.6" y="563" textLength="30.4" lengthAdjust="spacingAndGlyphs">РПII</text>
<text class="m" x="529" y="570.5" textLength="109.5" lengthAdjust="spacingAndGlyphs">К цепям упра-</text>
<text class="m" x="530.5" y="590" textLength="110.5" lengthAdjust="spacingAndGlyphs">вления электро-</text>
<text class="m" x="530.5" y="607.7" textLength="85.5" lengthAdjust="spacingAndGlyphs">двигателей</text>
<text class="m" x="537.4" y="626" textLength="55.4" lengthAdjust="spacingAndGlyphs">20 - 11Д</text>
<text x="311.7" y="603.6" textLength="32" lengthAdjust="spacingAndGlyphs">IКГ</text>
<text x="360" y="603.6" textLength="32" lengthAdjust="spacingAndGlyphs">РВП</text>
<text x="399" y="591" textLength="29" lengthAdjust="spacingAndGlyphs">РПА</text>
<text x="252" y="600" textLength="10" lengthAdjust="spacingAndGlyphs">Н</text><text class="s" x="262" y="606.7" textLength="8" lengthAdjust="spacingAndGlyphs">2</text>
<text x="608" y="652" textLength="36" lengthAdjust="spacingAndGlyphs">11БЛ</text>
<text x="515" y="667.7" textLength="32" lengthAdjust="spacingAndGlyphs">11ПР</text><text class="s" x="547" y="672.8" textLength="5.6" lengthAdjust="spacingAndGlyphs">1</text>
<text x="616.3" y="678" textLength="33.2" lengthAdjust="spacingAndGlyphs">11КЛ</text>
<text x="365.7" y="665" textLength="27.7" lengthAdjust="spacingAndGlyphs">РПА</text>
<text x="404.5" y="662" textLength="22" lengthAdjust="spacingAndGlyphs">ДС</text>
<text x="305.6" y="682.5" textLength="19.5" lengthAdjust="spacingAndGlyphs">РП</text><text class="s" x="324.5" y="686" textLength="6.5" lengthAdjust="spacingAndGlyphs">2</text>
<text class="m" x="334" y="702.8" textLength="29" lengthAdjust="spacingAndGlyphs">РВII</text>
<text class="m" x="222" y="696.7" textLength="26.6" lengthAdjust="spacingAndGlyphs">IIРТ</text><text class="s" x="248.6" y="702.7" textLength="6" lengthAdjust="spacingAndGlyphs">1</text>
<text class="m" x="266.4" y="696.7" textLength="23" lengthAdjust="spacingAndGlyphs">IIРТ</text><text class="s" x="289.5" y="701.5" textLength="7" lengthAdjust="spacingAndGlyphs">6</text>
<text x="468" y="711" textLength="23.7" lengthAdjust="spacingAndGlyphs">ДС</text>
<text x="516.6" y="709" textLength="26.4" lengthAdjust="spacingAndGlyphs">1ПР</text><text class="s" x="543" y="710" textLength="7" lengthAdjust="spacingAndGlyphs">2</text>
<text x="615" y="716.2" textLength="29" lengthAdjust="spacingAndGlyphs">1КЛ</text>
<text class="m" x="531.6" y="751.4" textLength="106.8" lengthAdjust="spacingAndGlyphs">К цепям управ-</text>
<text class="m" x="528" y="771.6" textLength="110.4" lengthAdjust="spacingAndGlyphs">ления электро-</text>
<text class="m" x="528" y="790.6" textLength="85.5" lengthAdjust="spacingAndGlyphs">двигателей</text>
<text class="m" x="528" y="808.4" textLength="53.5" lengthAdjust="spacingAndGlyphs">20 – 11Д</text>
<text x="533.4" y="838" textLength="29" lengthAdjust="spacingAndGlyphs">11ПР</text><text class="s" x="562.5" y="842" textLength="6.5" lengthAdjust="spacingAndGlyphs">2</text>
<text x="602.8" y="842.9" textLength="35.6" lengthAdjust="spacingAndGlyphs">11КЛ</text>
<text x="239.7" y="807" textLength="32" lengthAdjust="spacingAndGlyphs">РВII</text>
<text x="312.7" y="809.6" textLength="33.8" lengthAdjust="spacingAndGlyphs">РВII</text>
<text x="246.8" y="923.7" textLength="32" lengthAdjust="spacingAndGlyphs">РВП</text>
<text x="330.5" y="919" textLength="28.5" lengthAdjust="spacingAndGlyphs">РВП</text>
<text x="211" y="1000.9" textLength="25" lengthAdjust="spacingAndGlyphs">РПА</text>
<text x="252" y="1022.6" textLength="32" lengthAdjust="spacingAndGlyphs">РВА</text>
<text x="357" y="1013.6" textLength="32" lengthAdjust="spacingAndGlyphs">РВА</text>
<text x="518.4" y="1035" textLength="21.4" lengthAdjust="spacingAndGlyphs">ЛК</text>
<text x="353.6" y="1088" textLength="23.2" lengthAdjust="spacingAndGlyphs">ЛС</text>
<text class="m" x="355.4" y="1122.4" textLength="25" lengthAdjust="spacingAndGlyphs">1БЛ</text>
<text class="m" x="573" y="1102.7" textLength="31" lengthAdjust="spacingAndGlyphs">11БЛ</text>
<text x="231" y="1092" textLength="12.3" lengthAdjust="spacingAndGlyphs">Н</text><text class="s" x="243.3" y="1098" textLength="8.7" lengthAdjust="spacingAndGlyphs">11</text>
<text x="652.7" y="1073" textLength="19.3" lengthAdjust="spacingAndGlyphs">ВУ</text><text class="s" x="672" y="1075.8" textLength="5.6" lengthAdjust="spacingAndGlyphs">2</text>
<text x="654.4" y="1132.4" textLength="19.6" lengthAdjust="spacingAndGlyphs">ВУ</text><text class="s" x="674" y="1136" textLength="5.5" lengthAdjust="spacingAndGlyphs">3</text>
<text class="m" x="687" y="1166" textLength="15.5" lengthAdjust="spacingAndGlyphs">ВУ</text><text class="s" x="702.5" y="1171" textLength="7.5" lengthAdjust="spacingAndGlyphs">4</text>
<text x="733" y="1167" textLength="11" lengthAdjust="spacingAndGlyphs">Н</text><text class="s" x="744" y="1173" textLength="5" lengthAdjust="spacingAndGlyphs">1</text>
<text class="m" x="791.4" y="1183.5" textLength="24.2" lengthAdjust="spacingAndGlyphs">IТТ</text><text class="s" x="815.6" y="1187.6" textLength="5" lengthAdjust="spacingAndGlyphs">2</text>
<text class="m" x="826" y="1178.3" textLength="20.4" lengthAdjust="spacingAndGlyphs">IТТ</text><text class="s" x="848" y="1182.5" textLength="5" lengthAdjust="spacingAndGlyphs">3</text>
<text class="m" x="428.4" y="1199" textLength="22" lengthAdjust="spacingAndGlyphs">IРТ</text><text class="s" x="450.5" y="1203" textLength="6" lengthAdjust="spacingAndGlyphs">1</text>
<text class="m" x="465" y="1197" textLength="24" lengthAdjust="spacingAndGlyphs">IРТ</text><text class="s" x="489" y="1202" textLength="6" lengthAdjust="spacingAndGlyphs">2</text>
<text class="m" x="540.5" y="1192.8" textLength="25.5" lengthAdjust="spacingAndGlyphs">IРТ</text><text class="s" x="566" y="1198" textLength="6" lengthAdjust="spacingAndGlyphs">3</text>
<text class="m" x="612.5" y="1192.8" textLength="20.5" lengthAdjust="spacingAndGlyphs">IРТ</text><text class="s" x="633" y="1198" textLength="6" lengthAdjust="spacingAndGlyphs">4</text>
<text class="m" x="540.5" y="1235.8" textLength="25.5" lengthAdjust="spacingAndGlyphs">IРТ</text><text class="s" x="566" y="1240" textLength="6" lengthAdjust="spacingAndGlyphs">5</text>
<text class="m" x="612.5" y="1235" textLength="28.3" lengthAdjust="spacingAndGlyphs">IРТ</text><text class="s" x="641" y="1238" textLength="6" lengthAdjust="spacingAndGlyphs">6</text>
<text x="171.8" y="1199" textLength="29.2" lengthAdjust="spacingAndGlyphs">IКГ</text>
<text x="224" y="1198.6" textLength="36.3" lengthAdjust="spacingAndGlyphs">II·КГ</text>
<text class="m" x="247.4" y="1271.3" textLength="25.6" lengthAdjust="spacingAndGlyphs">IIРТ</text><text class="s" x="273" y="1276.5" textLength="5" lengthAdjust="spacingAndGlyphs">1</text>
<text class="m" x="293.7" y="1271.3" textLength="25.7" lengthAdjust="spacingAndGlyphs">IIРТ</text><text class="s" x="319.4" y="1277" textLength="6" lengthAdjust="spacingAndGlyphs">2</text>
<text class="m" x="358" y="1266" textLength="28" lengthAdjust="spacingAndGlyphs">IIРТ</text><text class="s" x="386" y="1271" textLength="5" lengthAdjust="spacingAndGlyphs">3</text>
<text class="m" x="417" y="1266" textLength="28.4" lengthAdjust="spacingAndGlyphs">IIРТ</text><text class="s" x="445.4" y="1271" textLength="5" lengthAdjust="spacingAndGlyphs">4</text>
<text class="m" x="361.6" y="1315.8" textLength="27.2" lengthAdjust="spacingAndGlyphs">IIРТ</text><text class="s" x="388.8" y="1321" textLength="5" lengthAdjust="spacingAndGlyphs">5</text>
<text class="m" x="423.8" y="1316.8" textLength="31.9" lengthAdjust="spacingAndGlyphs">IIРТ</text><text class="s" x="455.7" y="1322" textLength="5" lengthAdjust="spacingAndGlyphs">6</text>
<text class="m" x="162.6" y="1291" textLength="36" lengthAdjust="spacingAndGlyphs">IIТТ1</text>
<text class="m" x="848" y="1269.3" textLength="24" lengthAdjust="spacingAndGlyphs">IIТТ</text><text class="s" x="872" y="1274" textLength="7" lengthAdjust="spacingAndGlyphs">2</text>
<text class="m" x="867" y="1302.3" textLength="23" lengthAdjust="spacingAndGlyphs">IIТТ</text><text class="s" x="890" y="1307" textLength="6" lengthAdjust="spacingAndGlyphs">3</text>

<text class="cap" x="125" y="1406.4" textLength="823" lengthAdjust="spacingAndGlyphs">Рис. 45. Схема одиннадцатилебедочного электропривода  лебедок  поставки</text>
<text class="cap" x="499" y="1426.4" textLength="72.5" lengthAdjust="spacingAndGlyphs">1953 г.:</text>
<text class="sm" x="122" y="1449" textLength="823" lengthAdjust="spacingAndGlyphs"><tspan>КГ</tspan> — контактор главной цепи; <tspan>РП</tspan> — промежуточное реле; <tspan>РТ</tspan> — максимальное реле то-</text>
<text class="sm" x="398" y="1467.7" textLength="269" lengthAdjust="spacingAndGlyphs">ка; <tspan>ТТ</tspan> — трансформатор тока</text>
<text class="cap" x="125" y="1502" textLength="66" lengthAdjust="spacingAndGlyphs">5—563</text>
</g>
</svg>
</body></html>
